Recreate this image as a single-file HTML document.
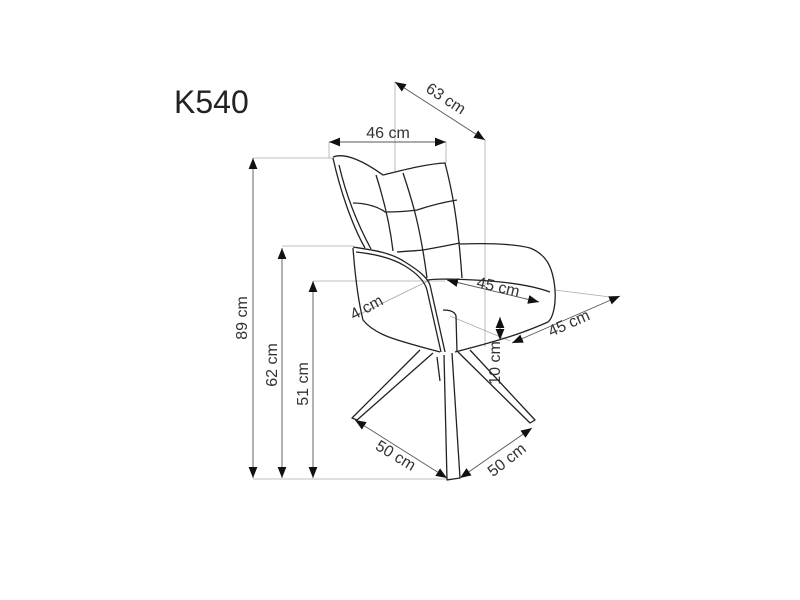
<!DOCTYPE html>
<html><head><style>html,body{margin:0;padding:0;background:#fff}svg{display:block}</style></head><body>
<svg width="800" height="600" viewBox="0 0 800 600" xmlns="http://www.w3.org/2000/svg" font-family="Liberation Sans, sans-serif">
<defs>
<marker id="a" viewBox="0 0 10 10" refX="10" refY="5" markerWidth="11" markerHeight="11" markerUnits="userSpaceOnUse" orient="auto-start-reverse"><path d="M0,1 L10,5 L0,9 z" fill="#111"/></marker>
</defs>
<text x="174" y="113" font-size="32" fill="#222">K540</text>
<g stroke="#aaa" stroke-width="0.8" fill="none">
<line x1="253" y1="158" x2="333" y2="158"/>
<line x1="282" y1="246" x2="353" y2="246"/>
<line x1="313" y1="281" x2="445" y2="281"/>
<line x1="253" y1="479" x2="452" y2="479"/>
<line x1="329" y1="142" x2="329" y2="158"/>
<line x1="446" y1="142" x2="446" y2="163"/>
<line x1="395" y1="82" x2="395" y2="172"/>
<line x1="485" y1="140" x2="485" y2="347"/>
<line x1="555" y1="290" x2="618" y2="298"/>
<line x1="450" y1="316" x2="510" y2="341"/>
<line x1="352" y1="318" x2="430" y2="280"/>
</g>
<g stroke="#555" stroke-width="0.9" fill="none" marker-start="url(#a)" marker-end="url(#a)">
<line x1="253" y1="158" x2="253" y2="478"/>
<line x1="282" y1="248" x2="282" y2="478"/>
<line x1="313" y1="281" x2="313" y2="478"/>
<line x1="329" y1="142" x2="446" y2="142"/>
<line x1="395" y1="82" x2="485" y2="140"/>
<line x1="447" y1="280" x2="539" y2="302"/>
<line x1="512" y1="343" x2="620" y2="296"/>
<line x1="500" y1="317" x2="500" y2="340"/>
<line x1="355" y1="420" x2="447" y2="478"/>
<line x1="460" y1="478" x2="532" y2="428"/>
</g>
<g stroke="#222" stroke-width="1.3" fill="none" stroke-linejoin="round">
<path d="M333,157 C345,152 365,162 383,175 C400,171 425,164 445,163 C452,190 458,220 462,278"/>
<path d="M333,158 C340,190 352,225 365,248"/>
<path d="M339,165 C346,195 358,225 371,249"/>
<path d="M376,175 C384,200 390,225 393,251"/>
<path d="M403,173 C412,200 420,225 427,278"/>
<path d="M353,203 C368,203 380,208 385,212 C398,212 410,211 417,210 C432,205 445,202 457,200"/>
<path d="M397,252 C408,251 415,251 423,250 C440,247 450,245 460,243"/>
<path d="M353,247 C372,250 390,252 405,262 C418,270 427,277 430,285 L445,352"/>
<path d="M356,252 C375,254 392,258 405,266 C418,274 425,282 427,290 L441,352"/>
<path d="M353,248 C355,275 358,300 363,320 C375,335 395,340 440,352"/>
<path d="M443,310 C450,310 455,312 456,316 L457,352"/>
<path d="M427,280 C435,279 440,279 447,279 C490,280 525,283 550,292"/>
<path d="M460,244 C490,243 515,244 530,248 C545,254 553,265 555,290 C556,305 553,318 548,322 C530,330 510,338 455,352"/>
<path d="M420,350 L352,418 L357,420 L433,353"/>
<path d="M444,355 L447,480 L460,478 L452,353"/>
<path d="M470,350 L535,420 L530,423 L458,352"/>
<path d="M437,357 L440,381"/>
</g>
<g font-size="16" fill="#333" text-anchor="middle">
<text x="388" y="138">46 cm</text>
<text transform="translate(443,103) rotate(33)">63 cm</text>
<text transform="translate(247,318) rotate(-90)">89 cm</text>
<text transform="translate(277,365) rotate(-90)">62 cm</text>
<text transform="translate(308,384) rotate(-90)">51 cm</text>
<text transform="translate(369,312) rotate(-28)">4 cm</text>
<text transform="translate(497,292) rotate(13)">45 cm</text>
<text transform="translate(571,328) rotate(-24)">45 cm</text>
<text transform="translate(500,363) rotate(-90)">10 cm</text>
<text transform="translate(393,460) rotate(31)">50 cm</text>
<text transform="translate(510,464) rotate(-38)">50 cm</text>
</g>
</svg>
</body></html>
